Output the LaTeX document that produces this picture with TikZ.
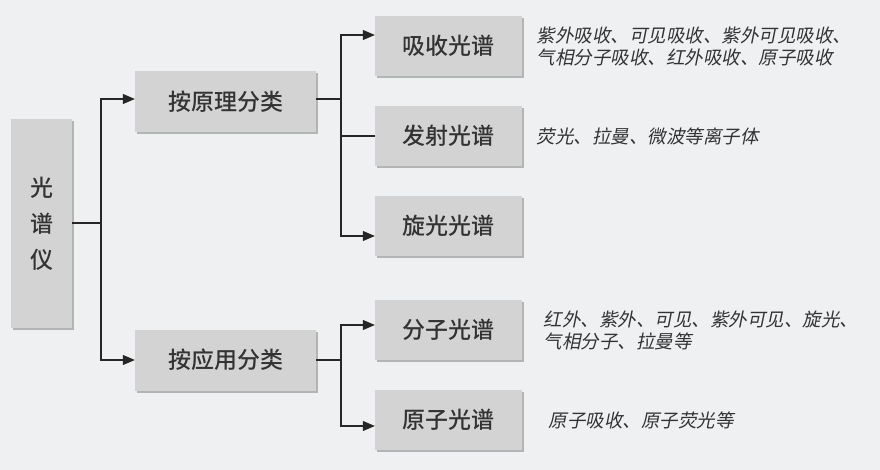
\documentclass[tikz,border=0pt]{standalone}
\usepackage{fontspec}
\usepackage{tikz}
\usetikzlibrary{shadows,arrows.meta}
\newfontfamily\cjk{Noto Sans CJK SC Medium}
\newfontfamily\cjkit[FakeSlant=0.2]{Noto Sans CJK SC}
\definecolor{bgc}{HTML}{EEF0F2}
\definecolor{boxc}{HTML}{D4D3D3}
\definecolor{txtc}{HTML}{333333}

\begin{document}
\begin{tikzpicture}[x=1pt,y=-1pt]
	\tikzset{box/.style={fill=boxc, text=txtc, inner sep=0pt, font=\cjk\fontsize{23}{36}\selectfont,
		drop shadow={shadow xshift=2pt, shadow yshift=-2pt, fill=black!45, opacity=0.6}}}
	\tikzset{note/.style={anchor=west, align=left, text=txtc, font=\cjkit\fontsize{18.5}{22}\selectfont}}
	\tikzset{link/.style={draw=black!85, line width=1.1pt}}
	\tikzset{arr/.style={link, -{Triangle[length=12pt,width=10pt]}}}
	\fill[bgc] (0,0) rectangle (880,470);
	% boxes
	\node [box, minimum width=61pt, minimum height=209pt, align=center] (root) at (41.5,223.5) {光\\谱\\仪};
	\node [box, minimum width=181pt, minimum height=61pt] (prin) at (225.5,101.5) {按原理分类};
	\node [box, minimum width=181pt, minimum height=61pt] (appl) at (225.5,360) {按应用分类};
	\node [box, minimum width=147pt, minimum height=60pt] (abs) at (448.5,46) {吸收光谱};
	\node [box, minimum width=147pt, minimum height=60pt] (emi) at (448.5,136) {发射光谱};
	\node [box, minimum width=147pt, minimum height=60pt] (rot) at (448.5,226) {旋光光谱};
	\node [box, minimum width=147pt, minimum height=60pt] (mol) at (448.5,330) {分子光谱};
	\node [box, minimum width=147pt, minimum height=60pt] (atm) at (448.5,420) {原子光谱};
	% notes
	\node [note] (nabs) at (533,46) {紫外吸收、可见吸收、紫外可见吸收、\\气相分子吸收、红外吸收、原子吸收};
	\node [note] (nemi) at (533,136) {荧光、拉曼、微波等离子体};
	\node [note] (nmol) at (540,330) {红外、紫外、可见、紫外可见、旋光、\\气相分子、拉曼等};
	\node [note] (natm) at (545,420) {原子吸收、原子荧光等};
	% connectors
	\coordinate (r0) at (101,223);
	\draw [link] (root.east |- r0) -- (r0);
	\draw [arr] (r0) |- (prin.west |- 0,99);
	\draw [arr] (r0) |- (appl.west);
	\coordinate (p0) at (341,99);
	\draw [link] (prin.east |- p0) -- (p0);
	\draw [arr] (p0) |- (abs.west |- 0,35);
	\draw [link] (p0) |- (emi.west);
	\draw [arr] (p0) |- (rot.west |- 0,236);
	\coordinate (a0) at (341,360);
	\draw [link] (appl.east |- a0) -- (a0);
	\draw [arr] (a0) |- (mol.west |- 0,325);
	\draw [arr] (a0) |- (atm.west |- 0,426);
\end{tikzpicture}
\end{document}
